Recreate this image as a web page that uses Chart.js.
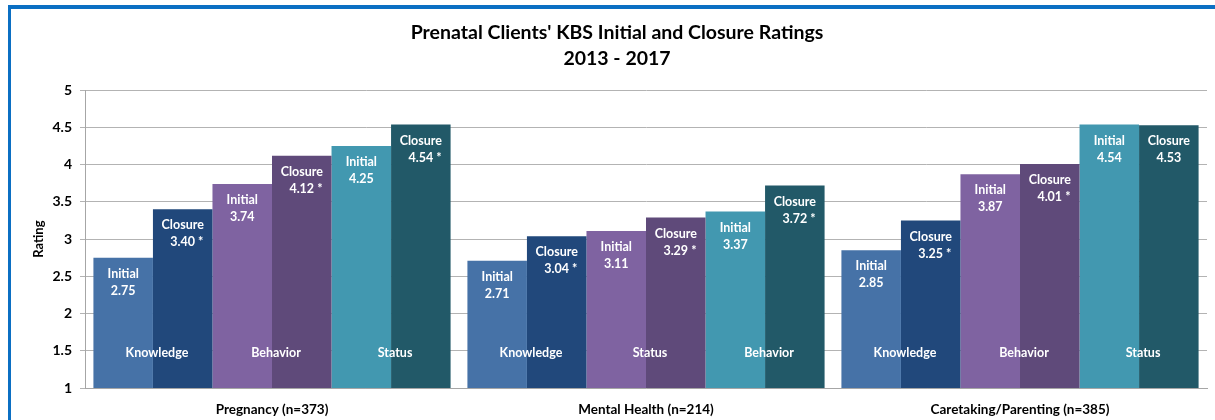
<!DOCTYPE html>
<html>
<head>
<meta charset="utf-8">
<script src="https://cdn.jsdelivr.net/npm/chart.js@4.4.0/dist/chart.umd.min.js"></script>
<style>
    html, body { margin: 0; padding: 0; background: #fff; overflow: hidden; width: 1215px; height: 420px; }
    #frame {
        position: absolute; left: 8px; top: 5px;
        border-left: 3px solid #0b6fc3; border-top: 4px solid #0b6fc3;
    }
    #box { position: relative; width: 1212px; height: 412px; }
</style>
</head>
<body>
<div id="frame"><div id="box"><canvas id="kbsChart"></canvas></div></div>
<script>
    const groups = ['Pregnancy (n=373)', 'Mental Health (n=214)', 'Caretaking/Parenting (n=385)'];
    const domainNames = [
        ['Knowledge', 'Behavior', 'Status'],
        ['Knowledge', 'Status', 'Behavior'],
        ['Knowledge', 'Behavior', 'Status']
    ];
    const initial1 = [2.75, 2.71, 2.85];
    const closure1 = [3.40, 3.04, 3.25];
    const initial2 = [3.74, 3.11, 3.87];
    const closure2 = [4.12, 3.29, 4.01];
    const initial3 = [4.25, 3.37, 4.54];
    const closure3 = [4.54, 3.72, 4.53];
    // significant change marked with *
    const closure1Sig = [true, true, true];
    const closure2Sig = [true, true, true];
    const closure3Sig = [true, true, false];
    const yTicks = [1, 1.5, 2, 2.5, 3, 3.5, 4, 4.5, 5];

    const FONT = 'Lato, "Liberation Sans", sans-serif';

    // --- labels drawn inside the bars ---
    const barLabels = {
        id: 'barLabels',
        afterDatasetsDraw(chart) {
            const ctx = chart.ctx;
            ctx.save();
            ctx.fillStyle = '#ffffff';
            ctx.textBaseline = 'middle';
            ctx.font = 'bold 12.5px ' + FONT;

            chart.data.datasets.forEach((ds, di) => {
                const meta = chart.getDatasetMeta(di);
                meta.data.forEach((bar, i) => {
                    ctx.textAlign = 'center';
                    ctx.fillText(ds.label, bar.x, bar.y + 16);
                    const txt = ds.data[i].toFixed(2);
                    ctx.fillText(txt, bar.x, bar.y + 33);
                    if (ds.sig && ds.sig[i]) {
                        ctx.textAlign = 'left';
                        ctx.fillText(' *', bar.x + ctx.measureText(txt).width / 2, bar.y + 33);
                    }
                });
            });

            // domain name across each Initial/Closure pair
            ctx.textAlign = 'center';
            const yPos = chart.chartArea.bottom - 35;
            groups.forEach((g, i) => {
                for (let p = 0; p < 3; p++) {
                    const a = chart.getDatasetMeta(p * 2).data[i];
                    const b = chart.getDatasetMeta(p * 2 + 1).data[i];
                    const boundary = (a.x + b.x) / 2;
                    ctx.fillText(domainNames[i][p], boundary + 4, yPos);
                }
            });
            ctx.restore();
        }
    };

    const ctx = document.getElementById('kbsChart');
    new Chart(ctx, {
        type: 'bar',
        data: {
            labels: groups,
            datasets: [
                { label: 'Initial', data: initial1, backgroundColor: '#4672a7' },
                { label: 'Closure', data: closure1, backgroundColor: '#21487b', sig: closure1Sig },
                { label: 'Initial', data: initial2, backgroundColor: '#7f63a1' },
                { label: 'Closure', data: closure2, backgroundColor: '#5f4a7a', sig: closure2Sig },
                { label: 'Initial', data: initial3, backgroundColor: '#4298b0' },
                { label: 'Closure', data: closure3, backgroundColor: '#225968', sig: closure3Sig }
            ]
        },
        options: {
            responsive: true,
            maintainAspectRatio: false,
            animation: false,
            events: [],
            layout: { padding: 0 },
            datasets: {
                bar: { categoryPercentage: 0.955, barPercentage: 1, borderWidth: 0 }
            },
            plugins: {
                legend: { display: false },
                tooltip: { enabled: false },
                title: {
                    display: true,
                    text: ["Prenatal Clients' KBS Initial and Closure Ratings", '2013 - 2017'],
                    color: '#000',
                    font: { family: FONT, size: 19.5, weight: 'bold', lineHeight: 1.34 },
                    padding: { top: 11, bottom: 18 }
                }
            },
            scales: {
                x: {
                    grid: { display: false },
                    border: { display: true, color: '#a6a6a6', width: 1 },
                    ticks: {
                        color: '#000',
                        font: { family: FONT, size: 13.5, weight: 'bold' },
                        padding: 6
                    },
                    afterFit: (scale) => { scale.height = 33; }
                },
                y: {
                    min: yTicks[0],
                    max: yTicks[yTicks.length - 1],
                    afterBuildTicks: (scale) => { scale.ticks = yTicks.map(v => ({ value: v })); },
                    grid: { color: '#b3b3b3', lineWidth: 1, tickLength: 5 },
                    border: { display: true, color: '#a6a6a6', width: 1 },
                    ticks: {
                        color: '#000',
                        font: { family: FONT, size: 14, weight: 'bold' },
                        padding: 8,
                        callback: (v) => String(v)
                    },
                    title: {
                        display: true,
                        text: 'Rating',
                        color: '#000',
                        font: { family: FONT, size: 13, weight: 'bold' },
                        padding: { top: 20, bottom: 0 }
                    },
                    afterFit: (scale) => { scale.width = 74; }
                },
                // empty right-hand axis, just keeps space to the right of the plot
                yRight: {
                    position: 'right',
                    min: yTicks[0],
                    max: yTicks[yTicks.length - 1],
                    grid: { display: false, drawOnChartArea: false },
                    border: { display: false },
                    ticks: { display: false },
                    afterFit: (scale) => { scale.width = 16; }
                }
            }
        },
        plugins: [barLabels]
    });
</script>
</body>
</html>
